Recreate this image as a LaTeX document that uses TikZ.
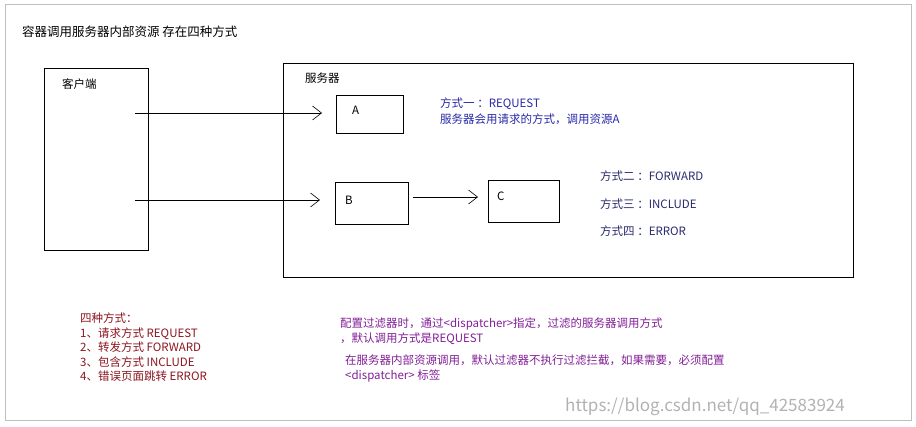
\documentclass[tikz,border=0pt]{standalone}
\usepackage{fontspec}
\setmainfont{Noto Sans CJK SC}
\usetikzlibrary{arrows.meta}
\definecolor{tblue}{RGB}{40,40,170}
\definecolor{tnavy}{RGB}{40,40,110}
\definecolor{tred}{RGB}{140,20,30}
\definecolor{tpur}{RGB}{130,30,150}
\tikzset{
 box/.style={draw=black, line width=0.8pt},
 txt/.style={anchor=west, inner sep=0, font=\fontsize{11.5}{12}\selectfont},
 arr/.style={-{Straight Barb[length=9pt,width=14pt,line width=0.6pt]}, line width=0.6pt},
}
\begin{document}
\begin{tikzpicture}[x=1pt,y=-1pt]
\useasboundingbox (0,0) rectangle (916,427);
\draw[gray!50, line width=1pt] (5,5) rectangle (911,421);
\node[txt, font=\fontsize{12.5}{14}\selectfont] (title) at (22,32) {容器调用服务器内部资源 存在四种方式};
\draw[box] (44,68) rectangle (148,250);
\coordinate (cl1) at (135,113);
\coordinate (cl2) at (135,200);
\node[txt] (clt) at (62,84) {客户端};
\draw[box] (283,63) rectangle (853,277);
\node[txt] (svt) at (305,78) {服务器};
\node[box, minimum width=67pt, minimum height=38pt, inner sep=0] (A) at (369.5,114) {};
\node[txt] at (352,110) {A};
\node[box, minimum width=73pt, minimum height=42pt, inner sep=0] (B) at (371.5,203) {};
\node[txt] at (345,200) {B};
\node[box, minimum width=71pt, minimum height=42pt, inner sep=0] (C) at (523.5,201) {};
\node[txt] at (497,196) {C};
\coordinate (a1) at (322,113);
\coordinate (b1) at (320,200);
\draw[arr] (cl1) -- (a1);
\draw[arr] (cl2) -- (b1);
\draw[arr] ([xshift=5pt]B.east |- 0,197) -- (478,197);
\node[txt, text=tblue] at (440,104) {方式一 ：REQUEST};
\node[txt, text=tblue] at (440,119) {服务器会用请求的方式，调用资源A};
\node[txt, text=tnavy] at (600,176) {方式二 ：FORWARD};
\node[txt, text=tnavy] at (600,204) {方式三 ：INCLUDE};
\node[txt, text=tnavy] at (600,231) {方式四 ：ERROR};
\node[txt, text=tred, align=left, anchor=north west, font=\fontsize{11.5}{14.5}\selectfont] at (80,313) {四种方式：\\1、请求方式 REQUEST\\2、转发方式 FORWARD\\3、包含方式 INCLUDE\\4、错误页面跳转 ERROR};
\node[txt, text=tpur] at (340,324) {配置过滤器时，通过<dispatcher>指定，过滤的服务器调用方式};
\node[txt, text=tpur] at (340,339) {，默认调用方式是REQUEST};
\node[txt, text=tpur] at (345,360) {在服务器内部资源调用，默认过滤器不执行过滤拦截，如果需要，必须配置};
\node[txt, text=tpur] at (345,376) {<dispatcher> 标签};
\node[txt, text=gray!60, font=\fontsize{17}{18}\selectfont] at (565,407) {https://blog.csdn.net/qq\_42583924};
\end{tikzpicture}
\end{document}
